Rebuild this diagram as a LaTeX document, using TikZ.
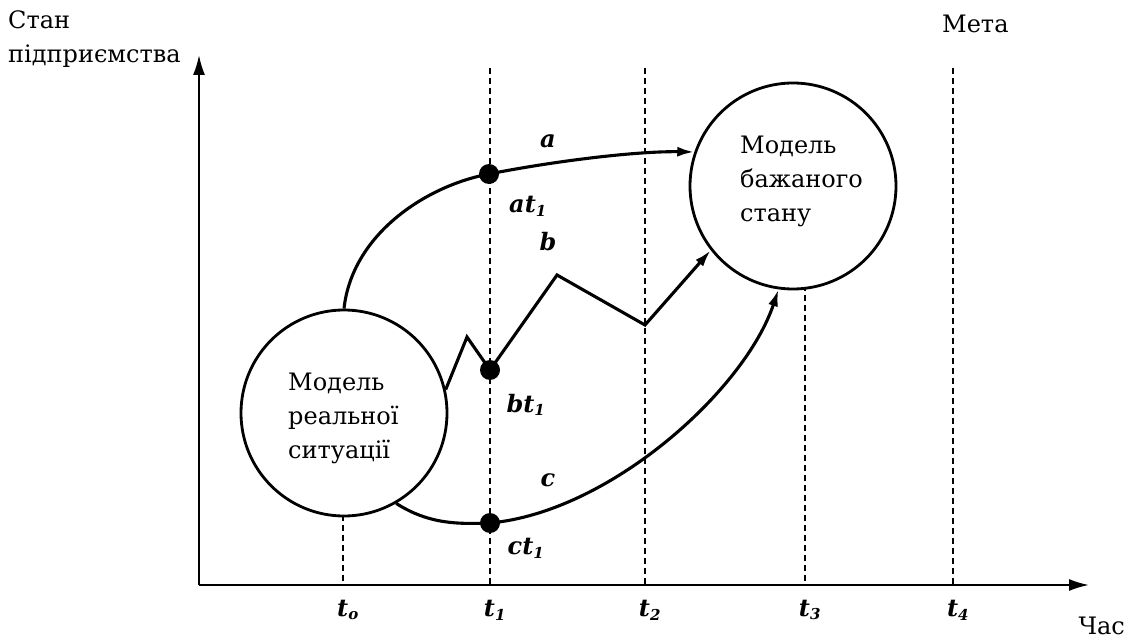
\documentclass[tikz,border=0pt]{standalone}
\usepackage{fontspec}
\setmainfont{DejaVu Serif}
\newfontfamily\timesfont{DejaVu Serif}
\usetikzlibrary{arrows.meta}
\tikzset{
  modelnode/.style={circle, draw, line width=2.8pt, fill=white, minimum size=206pt, inner sep=0pt},
  dot/.style={circle, fill=black, minimum size=20pt, inner sep=0pt},
  guide/.style={line width=1.4pt, dash pattern=on 6pt off 4pt},
  axis/.style={line width=2pt, -{Latex[length=20pt,width=12pt]}},
  route/.style={line width=3.1pt},
  routearrow/.style={line width=3.1pt, -{Latex[length=17pt,width=10pt]}},
  lbl/.style={font=\timesfont\fontsize{24}{30}\selectfont\bfseries\itshape, inner sep=1pt},
  plain/.style={font=\timesfont\fontsize{24}{34}\selectfont, inner sep=0pt, align=left}
}
\newcommand{\tsub}[1]{t\textsubscript{\fontsize{15}{15}\selectfont #1}}
\begin{document}
\begin{tikzpicture}[x=1pt,y=-1pt]
\useasboundingbox (0,0) rectangle (1127,644);
% axes
\coordinate (origin) at (199,585);
\coordinate (ytip) at (199,55);
\coordinate (xtip) at (1089,585);
% guide coordinates
\coordinate (g1top) at (490,68);
\coordinate (g2top) at (645,68);
\coordinate (g4top) at (953,68);
\coordinate (g0) at (343,585);
\coordinate (g1) at (490,585);
\coordinate (g2) at (645,585);
\coordinate (g3) at (805,585);
\coordinate (g4) at (953,585);
\coordinate (g0top) at (343,505);
\coordinate (g3top) at (805,285);
\draw[guide] (g0top) -- (g0);
\draw[guide] (g1top) -- (g1);
\draw[guide] (g2top) -- (g2);
\draw[guide] (g3top) -- (g3);
\draw[guide] (g4top) -- (g4);
\draw[axis] (origin) -- (ytip);
\draw[axis] (origin) -- (xtip);
% circles
\node[modelnode] (real) at (344,413) {};
\node[plain, anchor=north west] (realtxt) at (288,373) {Модель\\реальної\\ситуації};
\node[modelnode] (goal) at (793,186) {};
\node[plain, anchor=north west] (goaltxt) at (740,136) {Модель\\бажаного\\стану};
% dots
\node[dot] (at1) at (489,174) {};
\node[dot] (bt1) at (490,370) {};
\node[dot] (ct1) at (490,523) {};
% route bend points
\coordinate (b1) at (467,337);
\coordinate (b2) at (557,275);
\coordinate (b3) at (645,325);
% routes
\draw[route] (real.north) .. controls (352,235) and (425,186) .. (at1.center);
\draw[routearrow] (at1.center) .. controls (560,160) and (640,151) .. (goal.161);
\draw[route] (real.13) -- (b1) -- (bt1.center);
\draw[routearrow] (bt1.center) -- (b2) -- (b3) -- (goal.218);
\draw[route] (real.-60) .. controls (430,525) and (460,524) .. (ct1.center);
\draw[routearrow] (ct1.center) .. controls (610,512) and (745,390) .. (goal.262);
% route labels
\node[lbl] (la) at (548,141) {a};
\node[lbl] (lat) at (528,206) {a\tsub{1}};
\node[lbl] (lb) at (548,242) {b};
\node[lbl] (lbt) at (526,405) {b\tsub{1}};
\node[lbl] (lc) at (548,480) {c};
\node[lbl] (lct) at (526,548) {c\tsub{1}};
% time labels
\node[lbl] (t0) at (348,610) {\tsub{o}};
\node[lbl] (t1) at (495,610) {\tsub{1}};
\node[lbl] (t2) at (650,610) {\tsub{2}};
\node[lbl] (t3) at (810,610) {\tsub{3}};
\node[lbl] (t4) at (958,610) {\tsub{4}};
% axis titles
\node[plain, anchor=north west] (ytitle) at (8,10) {Стан\\підприємства};
\node[plain, anchor=north west] (goalname) at (942,15) {Мета};
\node[plain, anchor=north east] (xtitle) at (1125,617) {Час};
\end{tikzpicture}
\end{document}
